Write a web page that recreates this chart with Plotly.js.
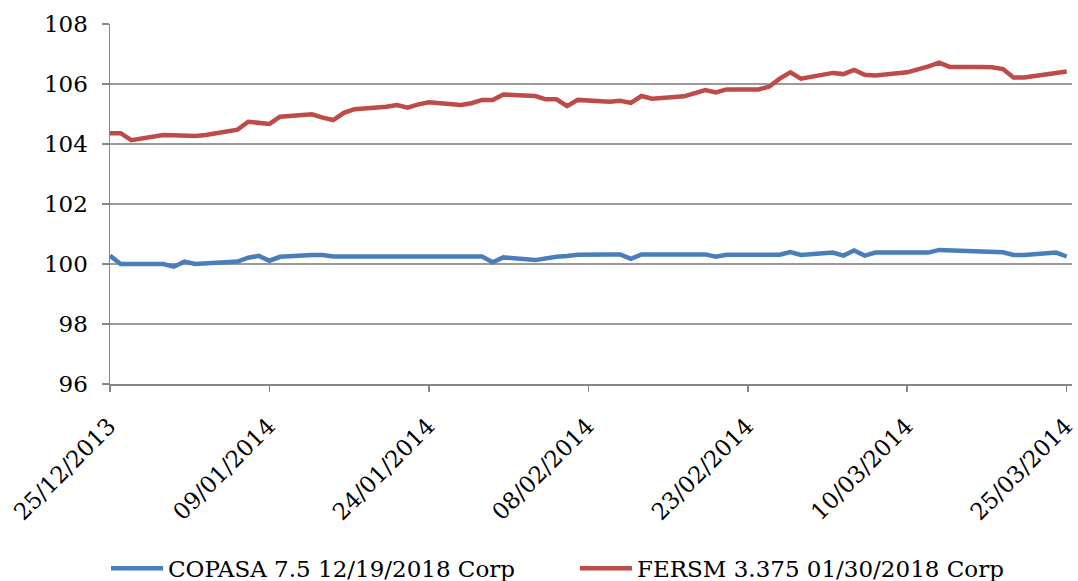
<!DOCTYPE html>
<html>
<head>
<meta charset="utf-8">
<script src="https://cdn.plot.ly/plotly-3.0.1.min.js"></script>
<style>
  html, body { margin: 0; padding: 0; background: #fff; }
  #chart { width: 1078px; height: 581px; }
</style>
</head>
<body>
<div id="chart"></div>
<script>
var dates = [
  '2013-12-25', '2013-12-26', '2013-12-27', '2013-12-30', '2013-12-31',
  '2014-01-01', '2014-01-02', '2014-01-03', '2014-01-06', '2014-01-07',
  '2014-01-08', '2014-01-09', '2014-01-10', '2014-01-13', '2014-01-14',
  '2014-01-15', '2014-01-16', '2014-01-17', '2014-01-20', '2014-01-21',
  '2014-01-22', '2014-01-23', '2014-01-24', '2014-01-27', '2014-01-28',
  '2014-01-29', '2014-01-30', '2014-01-31', '2014-02-03', '2014-02-04',
  '2014-02-05', '2014-02-06', '2014-02-07', '2014-02-10', '2014-02-11',
  '2014-02-12', '2014-02-13', '2014-02-14', '2014-02-17', '2014-02-18',
  '2014-02-19', '2014-02-20', '2014-02-21', '2014-02-24', '2014-02-25',
  '2014-02-26', '2014-02-27', '2014-02-28', '2014-03-03', '2014-03-04',
  '2014-03-05', '2014-03-06', '2014-03-07', '2014-03-10', '2014-03-11',
  '2014-03-12', '2014-03-13', '2014-03-14', '2014-03-17', '2014-03-18',
  '2014-03-19', '2014-03-20', '2014-03-21', '2014-03-24', '2014-03-25'
];

var copasa = [
  100.28, 100.00, 100.00, 100.00, 99.91,
  100.08, 100.00, 100.02, 100.08, 100.21,
  100.27, 100.11, 100.24, 100.30, 100.30,
  100.25, 100.25, 100.25, 100.25, 100.25,
  100.25, 100.25, 100.25, 100.25, 100.25,
  100.25, 100.06, 100.22, 100.13, 100.19,
  100.24, 100.27, 100.31, 100.32, 100.32,
  100.17, 100.32, 100.32, 100.32, 100.32,
  100.32, 100.24, 100.31, 100.31, 100.31,
  100.31, 100.40, 100.30, 100.38, 100.28,
  100.45, 100.28, 100.38, 100.38, 100.38,
  100.38, 100.47, 100.46, 100.42, 100.39,
  100.39, 100.30, 100.30, 100.38, 100.25
];

var fersm = [
  104.36, 104.36, 104.13, 104.30, 104.29,
  104.28, 104.27, 104.30, 104.48, 104.74,
  104.69, 104.67, 104.91, 104.99, 104.88,
  104.80, 105.04, 105.16, 105.24, 105.30,
  105.21, 105.32, 105.39, 105.30, 105.36,
  105.47, 105.47, 105.65, 105.60, 105.49,
  105.49, 105.26, 105.47, 105.41, 105.44,
  105.37, 105.60, 105.51, 105.59, 105.69,
  105.80, 105.72, 105.82, 105.82, 105.91,
  106.18, 106.39, 106.18, 106.37, 106.33,
  106.47, 106.31, 106.28, 106.39, 106.48,
  106.59, 106.71, 106.57, 106.57, 106.56,
  106.50, 106.22, 106.22, 106.37, 106.42
];

var seriesNames = ['COPASA 7.5 12/19/2018 Corp', 'FERSM 3.375 01/30/2018 Corp'];
var xTickDates = ['2013-12-25', '2014-01-09', '2014-01-24', '2014-02-08', '2014-02-23', '2014-03-10', '2014-03-25'];
var xTickLabels = ['25/12/2013', '09/01/2014', '24/01/2014', '08/02/2014', '23/02/2014', '10/03/2014', '25/03/2014'];
var yTicks = [96, 98, 100, 102, 104, 106, 108];

var font = 'DejaVu Serif, Liberation Serif, serif';

var trace1 = {
  x: dates,
  y: copasa,
  type: 'scatter',
  mode: 'lines',
  name: seriesNames[0],
  line: { color: '#4a7ebb', width: 4.5 },
  hoverinfo: 'none'
};

var trace2 = {
  x: dates,
  y: fersm,
  type: 'scatter',
  mode: 'lines',
  name: seriesNames[1],
  line: { color: '#be4b48', width: 4.5 },
  hoverinfo: 'none'
};

var layout = {
  width: 1078,
  height: 581,
  margin: { l: 110, r: 6, t: 24, b: 197 },
  paper_bgcolor: '#fff',
  plot_bgcolor: '#fff',
  font: { family: font, size: 23, color: '#000' },
  showlegend: true,
  legend: {
    orientation: 'h',
    xref: 'container',
    yref: 'container',
    x: 106 / 1078,
    xanchor: 'left',
    y: 0.022,
    yanchor: 'middle',
    font: { family: font, size: 23 },
    itemwidth: 52,
    entrywidth: 402,
    entrywidthmode: 'pixels'
  },
  xaxis: {
    type: 'date',
    range: ['2013-12-25', '2014-03-25 12:00'],
    tickvals: xTickDates,
    ticktext: xTickLabels,
    tickangle: -45,
    ticks: 'outside',
    ticklen: 6,
    tickcolor: '#868686',
    tickwidth: 1.5,
    ticklabelstandoff: 12,
    ticklabelshift: -1,
    ticklabeloverflow: 'allow',
    showline: true,
    linecolor: '#868686',
    linewidth: 1.5,
    showgrid: false,
    zeroline: false,
    tickfont: { family: font, size: 23 }
  },
  yaxis: {
    range: [96, 108],
    tickvals: yTicks,
    ticks: 'outside',
    ticklen: 7,
    tickcolor: '#868686',
    tickwidth: 1.5,
    ticklabelstandoff: 9,
    showline: true,
    linecolor: '#868686',
    linewidth: 1.5,
    showgrid: true,
    gridcolor: '#9a9a9a',
    gridwidth: 1.5,
    zeroline: false,
    tickfont: { family: font, size: 23 }
  }
};

Plotly.newPlot('chart', [trace1, trace2], layout, { displayModeBar: false, staticPlot: true });
</script>
</body>
</html>
